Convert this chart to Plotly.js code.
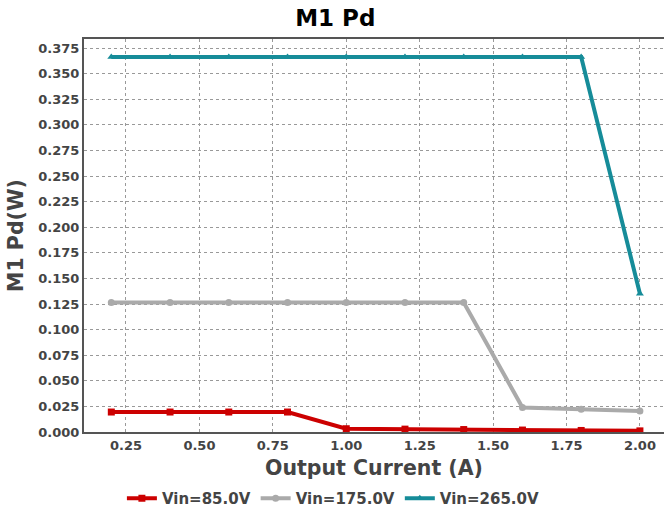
<!DOCTYPE html>
<html><head><meta charset="utf-8">
<script src="https://cdn.plot.ly/plotly-3.0.1.min.js"></script>
<style>html,body{margin:0;padding:0;background:#fff}</style>
</head><body>
<div id="chart" style="width:664px;height:515px"></div>
<script>
const current = [0.2, 0.4, 0.6, 0.8, 1.0, 1.2, 1.4, 1.6, 1.8, 2.0];
const pd85  = [0.0195, 0.0195, 0.0195, 0.0195, 0.0032, 0.0028, 0.0024, 0.0019, 0.0015, 0.0011];
const pd175 = [0.1265, 0.1265, 0.1265, 0.1265, 0.1265, 0.1265, 0.1265, 0.0240, 0.0223, 0.0205];
const pd265 = [0.3662, 0.3662, 0.3662, 0.3662, 0.3662, 0.3662, 0.3662, 0.3662, 0.3662, 0.1350];
const seriesNames = ['Vin=85.0V', 'Vin=175.0V', 'Vin=265.0V'];

const font = {family: 'DejaVu Sans, sans-serif', color: '#444'};
function tr(y, name, color, symbol) {
  return {x: current, y: y, name: name, type: 'scatter', mode: 'lines+markers',
    line: {color: color, width: 4}, marker: {color: color, symbol: symbol, size: 7}};
}
const data = [
  tr(pd85, seriesNames[0], '#cc0000', 'square'),
  tr(pd175, seriesNames[1], '#aaaaaa', 'circle'),
  tr(pd265, seriesNames[2], '#168c99', 'triangle-up')
];
const axisCommon = {showline: true, linecolor: '#555', linewidth: 2, mirror: true,
  showgrid: true, gridcolor: '#999', griddash: 'dot', gridwidth: 1, zeroline: false,
  ticks: '', tickfont: {family: 'DejaVu Sans, sans-serif', size: 13, color: '#444', weight: 'bold'}};
const layout = {
  width: 664, height: 515,
  margin: {l: 84, r: 0, t: 39, b: 82},
  paper_bgcolor: '#fff', plot_bgcolor: '#fff',
  font: font,
  title: {text: '<b>M1 Pd</b>', x: 0.505, xanchor: 'center', y: 0.966, yanchor: 'middle',
    font: {family: 'DejaVu Sans, sans-serif', size: 23, color: '#000'}},
  xaxis: Object.assign({}, axisCommon, {range: [0.107, 2.082], tick0: 0.25, dtick: 0.25, tickformat: '.2f',
    title: {text: '<b>Output Current (A)</b>', standoff: 9, font: {family: 'DejaVu Sans, sans-serif', size: 20.5, color: '#444'}}}),
  yaxis: Object.assign({}, axisCommon, {range: [0, 0.3838], tick0: 0, dtick: 0.025, tickformat: '.3f',
    title: {text: '<b>M1 Pd(W)</b>', standoff: 9, font: {family: 'DejaVu Sans, sans-serif', size: 20.5, color: '#444'}}}),
  showlegend: true,
  legend: {orientation: 'h', x: 0.43, xanchor: 'center', y: -0.168, yanchor: 'middle',
    font: {family: 'DejaVu Sans, sans-serif', size: 15, color: '#444', weight: 'bold'},
    itemwidth: 30, tracegroupgap: 0}
};
Plotly.newPlot('chart', data, layout, {displayModeBar: false, staticPlot: true});
</script>
</body></html>
